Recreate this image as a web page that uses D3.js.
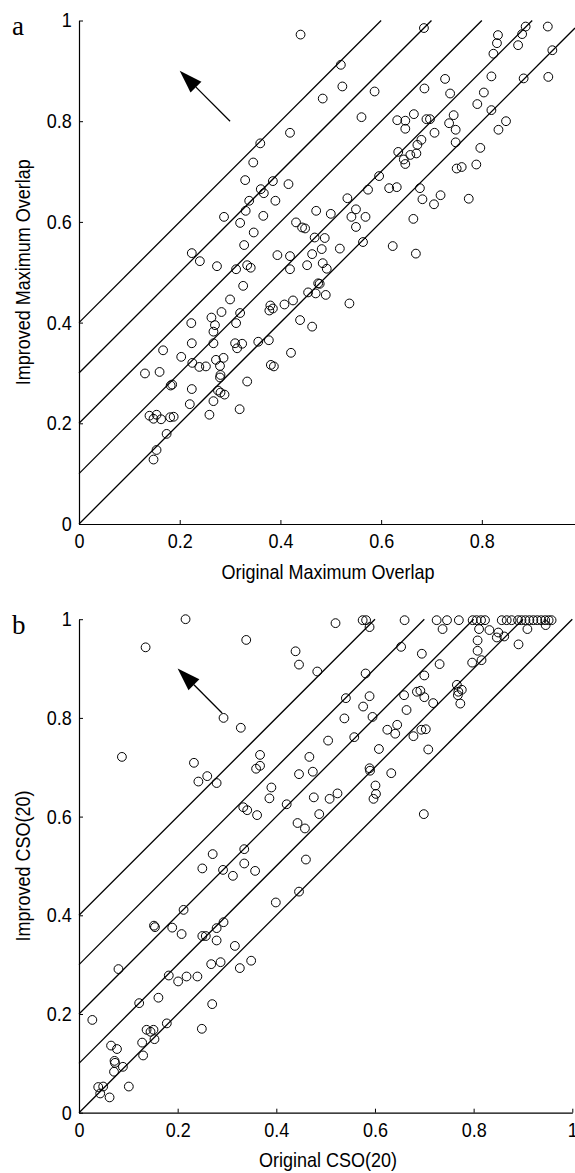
<html>
<head>
<script src="https://d3js.org/d3.v7.min.js"></script>
<style>
body { margin: 0; background: #fff; }
svg { display: block; }
</style>
</head>
<body>
<div id="chart"></div>
<script>

// panel a : original vs improved maximum overlap
var origA = [0.440,0.360,0.346,0.419,0.330,0.385,0.416,0.361,0.367,0.338,0.390,0.331,0.288,0.320,0.366,0.431,0.347,0.328,0.224,0.240,
  0.274,0.312,0.334,0.341,0.394,0.419,0.419,0.326,0.520,0.685,0.523,0.484,0.587,0.561,0.832,0.887,0.931,0.830,0.880,0.872,
  0.823,0.940,0.819,0.883,0.932,0.727,0.686,0.737,0.804,0.791,0.819,0.665,0.632,0.648,0.648,0.690,0.697,0.744,0.735,0.748,
  0.706,0.833,0.848,0.748,0.680,0.672,0.797,0.634,0.670,0.658,0.645,0.648,0.750,0.760,0.789,0.596,0.574,0.616,0.631,0.677,
  0.682,0.718,0.705,0.774,0.664,0.533,0.471,0.500,0.550,0.541,0.569,0.550,0.449,0.443,0.468,0.488,0.482,0.463,0.518,0.564,
  0.623,0.669,0.453,0.484,0.492,0.475,0.478,0.300,0.380,0.385,0.378,0.408,0.425,0.439,0.283,0.320,0.263,0.223,0.270,0.312,
  0.267,0.224,0.267,0.310,0.314,0.324,0.356,0.377,0.167,0.203,0.287,0.272,0.225,0.239,0.252,0.280,0.381,0.387,0.131,0.160,
  0.334,0.280,0.281,0.182,0.185,0.224,0.276,0.281,0.289,0.267,0.220,0.319,0.259,0.140,0.148,0.154,0.163,0.181,0.188,0.174,
  0.154,0.148,0.455,0.470,0.490,0.463,0.421,0.537];
var impA = [0.972,0.756,0.718,0.777,0.683,0.681,0.675,0.665,0.657,0.642,0.642,0.622,0.610,0.598,0.612,0.599,0.579,0.554,0.538,0.522,
  0.512,0.506,0.514,0.509,0.534,0.532,0.506,0.473,0.912,0.985,0.869,0.845,0.859,0.808,0.971,0.988,0.988,0.955,0.973,0.951,
  0.934,0.941,0.889,0.885,0.888,0.884,0.865,0.855,0.857,0.834,0.822,0.814,0.802,0.801,0.785,0.804,0.804,0.812,0.796,0.783,
  0.777,0.783,0.800,0.758,0.763,0.753,0.747,0.739,0.736,0.733,0.724,0.715,0.706,0.709,0.714,0.691,0.664,0.667,0.669,0.667,
  0.645,0.653,0.635,0.646,0.606,0.647,0.622,0.616,0.625,0.610,0.610,0.590,0.587,0.589,0.569,0.568,0.546,0.536,0.547,0.560,
  0.552,0.537,0.514,0.518,0.507,0.478,0.477,0.446,0.434,0.428,0.424,0.436,0.444,0.405,0.421,0.419,0.410,0.399,0.395,0.399,
  0.382,0.359,0.359,0.359,0.349,0.358,0.362,0.365,0.345,0.332,0.330,0.326,0.320,0.312,0.313,0.314,0.316,0.313,0.299,0.302,
  0.283,0.291,0.296,0.275,0.277,0.268,0.265,0.261,0.257,0.244,0.238,0.228,0.217,0.215,0.209,0.217,0.208,0.212,0.213,0.179,
  0.147,0.128,0.460,0.458,0.455,0.392,0.340,0.438];

// panel b : original vs improved CSO(20)
var origB = [0.216,0.135,0.339,0.439,0.446,0.293,0.328,0.087,0.233,0.242,0.260,0.279,0.367,0.359,0.367,0.446,0.390,0.386,0.333,0.341,
  0.361,0.421,0.443,0.335,0.271,0.250,0.292,0.312,0.335,0.357,0.520,0.575,0.582,0.589,0.660,0.725,0.746,0.770,0.737,0.798,
  0.806,0.815,0.823,0.811,0.832,0.850,0.847,0.862,0.857,0.867,0.877,0.890,0.897,0.905,0.913,0.921,0.929,0.937,0.945,0.952,
  0.958,0.909,0.946,0.891,0.808,0.808,0.797,0.816,0.483,0.653,0.695,0.731,0.581,0.700,0.766,0.769,0.776,0.768,0.773,0.541,
  0.589,0.659,0.685,0.692,0.700,0.718,0.576,0.664,0.538,0.595,0.505,0.558,0.625,0.641,0.645,0.678,0.694,0.703,0.708,0.608,
  0.467,0.474,0.589,0.590,0.633,0.601,0.602,0.597,0.476,0.508,0.524,0.487,0.699,0.458,0.460,0.399,0.446,0.212,0.152,0.154,
  0.189,0.208,0.250,0.257,0.293,0.279,0.279,0.316,0.080,0.268,0.287,0.326,0.349,0.182,0.201,0.218,0.240,0.122,0.161,0.270,
  0.027,0.137,0.145,0.151,0.153,0.178,0.249,0.128,0.130,0.065,0.077,0.072,0.073,0.071,0.089,0.039,0.049,0.043,0.062,0.101];
var impB = [1.000,0.943,0.958,0.935,0.908,0.800,0.780,0.721,0.709,0.671,0.682,0.668,0.725,0.697,0.703,0.686,0.659,0.637,0.619,0.613,
  0.603,0.625,0.587,0.534,0.524,0.495,0.492,0.480,0.505,0.490,0.992,0.998,0.998,0.984,0.998,0.998,0.998,0.998,0.980,0.998,
  0.998,0.998,0.998,0.980,0.978,0.973,0.963,0.965,0.998,0.998,0.998,0.998,0.998,0.998,0.998,0.998,0.998,0.998,0.998,0.998,
  0.998,0.980,0.988,0.949,0.957,0.936,0.912,0.917,0.894,0.944,0.930,0.909,0.890,0.886,0.867,0.853,0.857,0.846,0.829,0.840,
  0.844,0.846,0.853,0.855,0.842,0.830,0.823,0.816,0.799,0.802,0.754,0.761,0.776,0.768,0.786,0.763,0.776,0.777,0.736,0.737,
  0.721,0.691,0.698,0.693,0.688,0.663,0.646,0.636,0.639,0.636,0.647,0.605,0.605,0.576,0.513,0.426,0.448,0.411,0.379,0.376,
  0.375,0.362,0.358,0.358,0.386,0.374,0.349,0.338,0.291,0.301,0.305,0.293,0.308,0.278,0.266,0.276,0.276,0.222,0.233,0.220,
  0.188,0.168,0.164,0.168,0.149,0.181,0.170,0.142,0.116,0.136,0.129,0.105,0.101,0.083,0.093,0.052,0.053,0.039,0.031,0.053];

// reference lines y = x + offset
var offsets = [0, 0.1, 0.2, 0.3, 0.4];
var xTicksA = [0, 0.2, 0.4, 0.6, 0.8];
var xTicksB = [0, 0.2, 0.4, 0.6, 0.8, 1];
var yTicks = [0, 0.2, 0.4, 0.6, 0.8, 1];
// arrow: [tail, tip]
var arrowA = [[0.3, 0.8], [0.2, 0.9]];
var arrowB = [[0.29, 0.81], [0.2, 0.9]];

const black = "#000";
const sans = "'Liberation Sans', Arial, sans-serif";
const squeeze = 0.9;   // the original lettering is a bit condensed

var svg = d3.select("#chart").append("svg")
  .attr("width", 575)
  .attr("height", 1173);

function panel(cfg) {
  var x = d3.scaleLinear().domain([0, cfg.xMax]).range([79, cfg.right]);
  var y = d3.scaleLinear().domain([0, 1]).range([cfg.bottom, cfg.top]);
  var g = svg.append("g");

  // diagonal lines
  g.selectAll("line.diag")
    .data(offsets)
    .enter().append("line")
    .attr("class", "diag")
    .attr("x1", x(0))
    .attr("y1", function(d) { return y(d); })
    .attr("x2", function(d) { return x(Math.min(cfg.xMax, 1 - d)); })
    .attr("y2", function(d) { return y(Math.min(cfg.xMax, 1 - d) + d); })
    .attr("stroke", black)
    .attr("stroke-width", 1.3);

  // points
  g.selectAll("circle")
    .data(cfg.xs)
    .enter().append("circle")
    .attr("cx", function(d) { return x(d); })
    .attr("cy", function(d, i) { return y(cfg.ys[i]); })
    .attr("r", 4.4)
    .attr("fill", "none")
    .attr("stroke", black)
    .attr("stroke-width", 1);

  // arrow
  var t0 = [x(cfg.arrow[0][0]), y(cfg.arrow[0][1])];
  var t1 = [x(cfg.arrow[1][0]), y(cfg.arrow[1][1])];
  var dx = t1[0] - t0[0], dy = t1[1] - t0[1];
  var len = Math.sqrt(dx * dx + dy * dy);
  var ux = dx / len, uy = dy / len;
  var hl = 23, hw = 7.7;
  var bx = t1[0] - ux * hl, by = t1[1] - uy * hl;
  g.append("line")
    .attr("x1", t0[0]).attr("y1", t0[1])
    .attr("x2", bx).attr("y2", by)
    .attr("stroke", black)
    .attr("stroke-width", 1.3);
  g.append("path")
    .attr("d", "M" + t1[0] + "," + t1[1] +
      "L" + (bx - uy * hw) + "," + (by + ux * hw) +
      "L" + (bx + uy * hw) + "," + (by - ux * hw) + "Z")
    .attr("fill", black);

  // axes
  var xAxis = g.append("g")
    .attr("transform", "translate(0," + cfg.bottom + ")")
    .call(d3.axisBottom(x).tickValues(cfg.xTicks).tickSizeInner(-4).tickSizeOuter(0).tickPadding(10).tickFormat(d3.format("")));
  var yAxis = g.append("g")
    .attr("transform", "translate(79,0)")
    .call(d3.axisLeft(y).tickValues(yTicks).tickSizeInner(-4).tickSizeOuter(0).tickPadding(8).tickFormat(d3.format("")));
  [xAxis, yAxis].forEach(function(a) {
    a.attr("font-family", sans).attr("font-size", 20);
    a.selectAll("text").attr("fill", black).attr("transform", "scale(" + squeeze + ",1)");
    a.selectAll("line").attr("stroke", black);
    a.select(".domain").attr("stroke", black).attr("stroke-width", 1.2);
  });

  // titles
  g.append("text")
    .attr("transform", "translate(" + cfg.xTitleX + "," + cfg.xTitleY + ") scale(" + squeeze + ",1)")
    .attr("text-anchor", "middle")
    .attr("font-family", sans)
    .attr("font-size", 20)
    .text(cfg.xTitle);
  g.append("text")
    .attr("transform", "translate(30," + ((cfg.top + cfg.bottom) / 2) + ") rotate(-90) scale(" + squeeze + ",1)")
    .attr("text-anchor", "middle")
    .attr("font-family", sans)
    .attr("font-size", 20)
    .text(cfg.yTitle);
  g.append("text")
    .attr("x", 12)
    .attr("y", cfg.letterY)
    .attr("font-family", "'Liberation Serif', 'Times New Roman', serif")
    .attr("font-size", 27)
    .text(cfg.letter);
}

panel({
  xs: origA, ys: impA, xMax: 0.985, right: 575, top: 20.5, bottom: 524,
  xTicks: xTicksA, arrow: arrowA,
  xTitle: "Original Maximum Overlap", yTitle: "Improved Maximum Overlap",
  xTitleX: 328, xTitleY: 579, letter: "a", letterY: 35
});

panel({
  xs: origB, ys: impB, xMax: 1, right: 572.3, top: 619.2, bottom: 1112.7,
  xTicks: xTicksB, arrow: arrowB,
  xTitle: "Original CSO(20)", yTitle: "Improved CSO(20)",
  xTitleX: 328, xTitleY: 1167, letter: "b", letterY: 634
});

</script>
</body>
</html>
